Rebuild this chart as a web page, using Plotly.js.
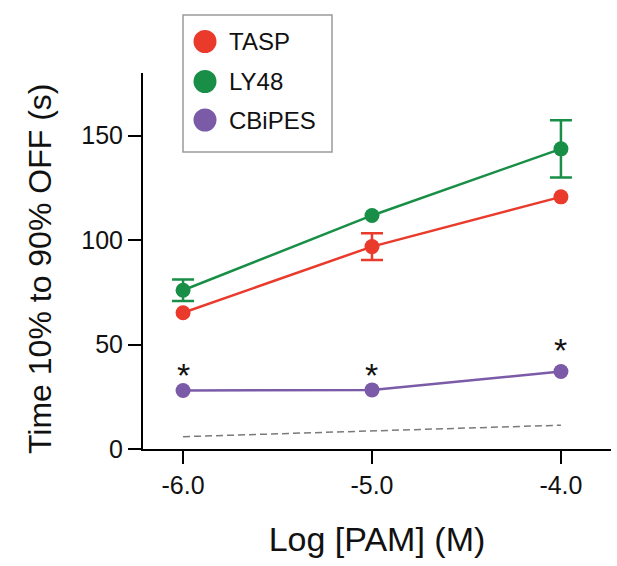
<!DOCTYPE html>
<html>
<head>
<meta charset="utf-8">
<script src="https://cdn.plot.ly/plotly-3.0.1.min.js"></script>
<style>html,body{margin:0;padding:0;background:#fff;}#chart{width:617px;height:566px;}</style>
</head>
<body>
<div id="chart"></div>
<script>
var logPAM = [-6.0, -5.0, -4.0];
var tickLabels = ['-6.0', '-5.0', '-4.0'];
var seriesNames = ['TASP', 'LY48', 'CBiPES'];
var taspY = [65.2, 96.9, 120.7];
var taspErr = [null, 6.4, null];
var ly48Y = [76.0, 111.8, 143.7];
var ly48Err = [5.2, null, 13.7];
var cbipesY = [28.0, 28.3, 37.1];
var baselineY = [5.9, 8.6, 11.4];
var starY = [35.5, 35.5, 47.5];
var starText = ['*', '*', '*'];

var colors = ['#e93a2c', '#198e47', '#7b5ba8'];
var FONT = 'Liberation Sans, Arial, sans-serif';

function series(name, y, color) {
  return {
    x: logPAM, y: y, name: name, type: 'scatter', mode: 'lines+markers', showlegend: false,
    line: {color: color, width: 2.5},
    marker: {color: color, size: 15}
  };
}
function errBars(y, err, color) {
  var idx = err.map(function (e, i) { return e == null ? -1 : i; }).filter(function (i) { return i >= 0; });
  return {
    x: idx.map(function (i) { return logPAM[i]; }),
    y: idx.map(function (i) { return y[i]; }),
    type: 'scatter', mode: 'markers', showlegend: false, hoverinfo: 'skip',
    marker: {size: 0.1, color: color, opacity: 0},
    error_y: {type: 'data', array: idx.map(function (i) { return err[i]; }), visible: true,
      color: color, thickness: 2.5, width: 11}
  };
}

var traces = [
  {x: logPAM, y: baselineY, type: 'scatter', mode: 'lines', showlegend: false,
   line: {color: '#7a7a7a', width: 1.5, dash: '7px,4px'}, hoverinfo: 'skip'},
  errBars(taspY, taspErr, colors[0]),
  errBars(ly48Y, ly48Err, colors[1]),
  series(seriesNames[0], taspY, colors[0]),
  series(seriesNames[1], ly48Y, colors[1]),
  series(seriesNames[2], cbipesY, colors[2])
];

var annotations = logPAM.map(function (x, i) {
  return {x: x, y: starY[i], xref: 'x', yref: 'y', text: starText[i], showarrow: false,
    font: {family: FONT, size: 34, color: '#111'}, yanchor: 'middle'};
});

// plot area in pixels
var L = 143, R = 6, T = 73, B = 117, W = 617, H = 566;
var pw = W - L - R, ph = H - T - B;
function px(x) { return (x - L) / pw; }
function py(y) { return (H - B - y) / ph; }

annotations.push({
  xref: 'paper', yref: 'paper', x: px(40), y: py(269), xanchor: 'center', yanchor: 'middle',
  textangle: -90, showarrow: false, text: 'Time 10% to 90% OFF (s)',
  font: {family: FONT, size: 32, color: '#111'}
});

var shapes = [{
  type: 'rect', xref: 'paper', yref: 'paper',
  x0: px(183), x1: px(332), y0: py(152), y1: py(15),
  line: {color: '#9a9a9a', width: 1.5}, fillcolor: 'rgba(0,0,0,0)'
}];
var legendRows = [41.5, 81.5, 120];
seriesNames.forEach(function (name, i) {
  shapes.push({
    type: 'circle', xref: 'paper', yref: 'paper',
    xsizemode: 'pixel', ysizemode: 'pixel',
    xanchor: px(205), yanchor: py(legendRows[i]),
    x0: -11.5, x1: 11.5, y0: -11.5, y1: 11.5,
    fillcolor: colors[i], line: {width: 0}
  });
  annotations.push({
    xref: 'paper', yref: 'paper', x: px(227), y: py(legendRows[i]),
    xanchor: 'left', yanchor: 'middle', showarrow: false, text: name,
    font: {family: FONT, size: 24, color: '#111'}
  });
});

var layout = {
  width: W, height: H,
  margin: {l: L, r: R, t: T, b: B},
  paper_bgcolor: '#fff', plot_bgcolor: '#fff',
  font: {family: FONT, color: '#111'},
  showlegend: false,
  xaxis: {
    range: [-6.212, -3.735], showgrid: false, zeroline: false,
    showline: true, linecolor: '#000', linewidth: 2,
    ticks: 'outside', ticklen: 13, tickwidth: 2, tickcolor: '#000',
    tickvals: logPAM, ticktext: tickLabels,
    tickfont: {size: 25, color: '#111'},
    title: {text: 'Log [PAM] (M)', font: {size: 34, color: '#111'}, standoff: 29}
  },
  yaxis: {
    range: [0, 180], showgrid: false, zeroline: false,
    showline: true, linecolor: '#000', linewidth: 2,
    ticks: 'outside', ticklen: 13, tickwidth: 2, tickcolor: '#000',
    tickvals: [0, 50, 100, 150],
    tickfont: {size: 25, color: '#111'}
  },
  shapes: shapes,
  annotations: annotations
};

Plotly.newPlot('chart', traces, layout, {displayModeBar: false, staticPlot: true});
</script>
</body>
</html>
